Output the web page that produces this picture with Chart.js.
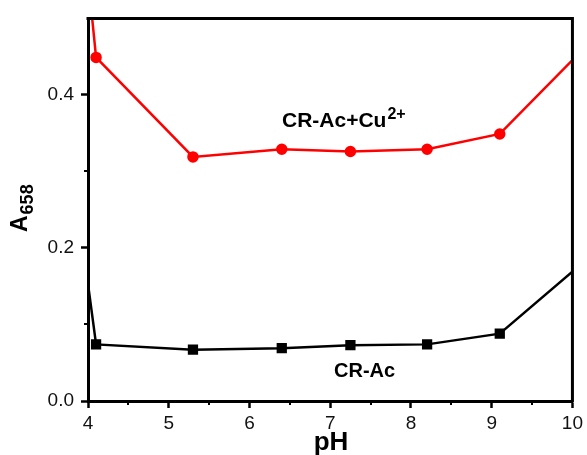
<!DOCTYPE html>
<html>
<head>
<meta charset="utf-8">
<script src="https://cdn.jsdelivr.net/npm/chart.js@4"></script>
<style>
  body { margin: 0; background: #fff; }
  canvas { display: block; }
</style>
</head>
<body>
<canvas id="chart" width="587" height="455"></canvas>
<script>
// data (first / last points sit outside the axis range)
const phValues = [3.9, 4.1, 5.3, 6.4, 7.25, 8.2, 9.1, 11];
const crAc = [0.232, 0.074, 0.067, 0.069, 0.073, 0.074, 0.088, 0.259];
const crAcCu = [0.66, 0.449, 0.319, 0.329, 0.326, 0.329, 0.349, 0.553];

const xTicks = [4, 5, 6, 7, 8, 9, 10];
const xMinor = [4.5, 5.5, 6.5, 7.5, 8.5, 9.5];
const yTicks = [0, 0.2, 0.4];
const yMinor = [0.1, 0.3];

const FONT = '"Liberation Sans", Arial, sans-serif';

function points(ys) {
    return phValues.map((x, i) => ({ x: x, y: ys[i] }));
}

// frame, minor ticks and the texts
const extras = {
    id: 'extras',
    afterDraw(chart) {
        const ctx = chart.ctx;
        const a = chart.chartArea;
        const xs = chart.scales.x;
        const ys = chart.scales.y;
        ctx.save();
        ctx.strokeStyle = '#000';
        ctx.lineWidth = 3;
        ctx.beginPath();
        ctx.moveTo(a.left - 1.5, a.top);
        ctx.lineTo(a.right, a.top);
        ctx.lineTo(a.right, a.bottom + 1.5);
        ctx.stroke();

        ctx.lineWidth = 2;
        ctx.beginPath();
        xMinor.forEach(v => {
            const px = Math.round(xs.getPixelForValue(v));
            ctx.moveTo(px, a.bottom);
            ctx.lineTo(px, a.bottom + 4);
        });
        yMinor.forEach(v => {
            const py = Math.round(ys.getPixelForValue(v));
            ctx.moveTo(a.left, py);
            ctx.lineTo(a.left - 4, py);
        });
        ctx.stroke();

        ctx.fillStyle = '#000';
        ctx.textBaseline = 'alphabetic';

        // x title
        ctx.font = 'bold 26px ' + FONT;
        ctx.textAlign = 'center';
        ctx.fillText('pH', 331, 450);

        // y title A658
        ctx.save();
        ctx.translate(27, 232);
        ctx.rotate(-Math.PI / 2);
        ctx.textAlign = 'left';
        ctx.font = 'bold 23px ' + FONT;
        ctx.fillText('A', 0, 0);
        const wa = ctx.measureText('A').width;
        ctx.font = 'bold 18px ' + FONT;
        ctx.fillText('658', wa + 1, 6);
        ctx.restore();

        // series labels
        ctx.textAlign = 'left';
        ctx.font = 'bold 21px ' + FONT;
        ctx.fillText('CR-Ac+Cu', 282, 127);
        const wc = ctx.measureText('CR-Ac+Cu').width;
        ctx.font = 'bold 16px ' + FONT;
        ctx.fillText('2+', 282 + wc + 1, 119);

        ctx.font = 'bold 20px ' + FONT;
        ctx.fillText('CR-Ac', 334, 377);
        ctx.restore();
    }
};

new Chart(document.getElementById('chart'), {
    type: 'line',
    data: {
        datasets: [{
            label: 'CR-Ac',
            data: points(crAc),
            borderColor: '#000',
            backgroundColor: '#000',
            borderWidth: 2.5,
            pointStyle: 'rect',
            pointRadius: 5.5,
            pointHoverRadius: 5.5,
            clip: 0
        }, {
            label: 'CR-Ac+Cu2+',
            data: points(crAcCu),
            borderColor: '#ff0000',
            backgroundColor: '#ff0000',
            borderWidth: 2.5,
            pointStyle: 'circle',
            pointRadius: 4.5,
            pointHoverRadius: 4.5,
            clip: 0
        }]
    },
    options: {
        responsive: false,
        devicePixelRatio: 1,
        animation: false,
        layout: { padding: { top: 17, right: 13, left: 0, bottom: 0 } },
        plugins: {
            legend: { display: false },
            tooltip: { enabled: false }
        },
        scales: {
            x: {
                type: 'linear',
                min: 4,
                max: 10,
                afterBuildTicks: s => { s.ticks = xTicks.map(v => ({ value: v })); },
                afterFit: s => { s.height = 54; },
                grid: { drawOnChartArea: false, tickLength: 7, tickWidth: 2.5, tickColor: '#000' },
                border: { display: true, width: 3, color: '#000' },
                ticks: {
                    color: '#111',
                    font: { family: FONT, size: 19 },
                    padding: 4,
                    maxRotation: 0,
                    callback: v => String(v)
                }
            },
            y: {
                min: 0,
                max: 0.5,
                afterBuildTicks: s => { s.ticks = yTicks.map(v => ({ value: v })); },
                afterFit: s => { s.width = 88; },
                grid: { drawOnChartArea: false, tickLength: 7, tickWidth: 2.5, tickColor: '#000' },
                border: { display: true, width: 3, color: '#000' },
                ticks: {
                    color: '#111',
                    font: { family: FONT, size: 19 },
                    padding: 7,
                    callback: v => v.toFixed(1)
                }
            }
        }
    },
    plugins: [extras]
});
</script>
</body>
</html>
